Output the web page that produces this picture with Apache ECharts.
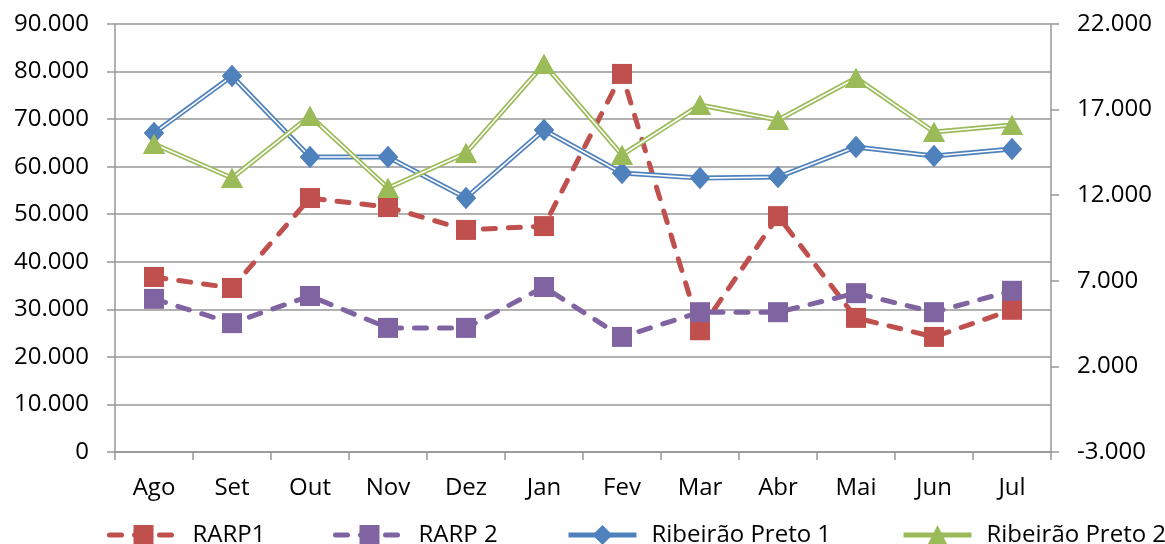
<!DOCTYPE html>
<html>
<head>
<meta charset="utf-8">
<script src="https://cdn.jsdelivr.net/npm/echarts@6/dist/echarts.min.js"></script>
<style>
  html, body { margin: 0; padding: 0; background: #fff; }
  #chart { width: 1165px; height: 544px; }
</style>
</head>
<body>
<div id="chart"></div>
<script>
const months = ['Ago', 'Set', 'Out', 'Nov', 'Dez', 'Jan', 'Fev', 'Mar', 'Abr', 'Mai', 'Jun', 'Jul'];

// eixo da esquerda
const rarp1 = [36800, 34500, 53400, 51500, 46700, 47500, 79500, 25600, 49600, 28200, 24200, 29900];
const rarp2 = [32200, 27100, 32800, 26100, 26100, 34700, 24200, 29400, 29400, 33400, 29400, 33900];
// eixo da direita
const ribeirao1 = [15630, 18960, 14230, 14230, 11840, 15810, 13300, 13000, 13060, 14820, 14290, 14700];
const ribeirao2 = [14990, 13000, 16630, 12420, 14470, 19660, 14350, 17270, 16390, 18850, 15690, 16100];

const names = ['RARP1', 'RARP 2', 'Ribeirão Preto 1', 'Ribeirão Preto 2'];

const FONT = 'Open Sans';
const GRID_GRAY = '#979797';

// 90000 -> "90.000"
function fmt(v) {
  const s = Math.abs(Math.round(v)).toString().replace(/\B(?=(\d{3})+(?!\d))/g, '.');
  return (v < 0 ? '-' : '') + s;
}

const chart = echarts.init(document.getElementById('chart'), null, { renderer: 'canvas' });

function legendAt(name, left) {
  return {
    data: [name],
    left: left,
    top: 523,
    padding: 0,
    itemWidth: 68,
    itemHeight: 25,
    lineStyle: { width: 5 },
    textStyle: { fontFamily: FONT, fontSize: 24, color: '#000', padding: [0, 0, 0, 10] }
  };
}

function dashed(name, data, color, z) {
  return {
    name: name,
    type: 'line',
    yAxisIndex: 0,
    data: data,
    z: z,
    symbol: 'rect',
    symbolSize: 20,
    itemStyle: { color: color },
    lineStyle: { color: color, width: 5, type: [12, 13], cap: 'round' }
  };
}

// linha dupla (estilo excel): linha grossa colorida + linha branca fina + marcadores por cima
function doubleLine(name, data, color, symbol, size, z) {
  return [
    {
      name: name,
      type: 'line',
      yAxisIndex: 1,
      data: data,
      z: z,
      symbol: symbol,
      symbolSize: size,
      itemStyle: { color: color },
      lineStyle: { color: color, width: 5 }
    },
    {
      name: name + '_inner',
      type: 'line',
      yAxisIndex: 1,
      data: data,
      z: z + 1,
      symbol: 'none',
      silent: true,
      lineStyle: { color: '#fff', width: 1.6 }
    },
    {
      name: name + '_marks',
      type: 'line',
      yAxisIndex: 1,
      data: data,
      z: z + 2,
      symbol: symbol,
      symbolSize: size,
      silent: true,
      itemStyle: { color: color },
      lineStyle: { opacity: 0, width: 0 }
    }
  ];
}

let option = {
  animation: false,
  backgroundColor: '#fff',
  textStyle: { fontFamily: FONT },
  grid: {
    left: 115,
    right: 114,
    top: 24,
    bottom: 92,
    containLabel: false
  },
  legend: [
    legendAt(names[0], 107),
    legendAt(names[1], 333),
    legendAt(names[2], 566),
    legendAt(names[3], 901)
  ],
  xAxis: {
    type: 'category',
    data: months,
    boundaryGap: true,
    axisLine: { lineStyle: { color: GRID_GRAY, width: 1.5 } },
    axisTick: { show: true, length: 8, interval: 0, lineStyle: { color: GRID_GRAY, width: 1.5 } },
    axisLabel: { fontFamily: FONT, fontSize: 24, color: '#000', margin: 24, interval: 0 },
    splitLine: { show: false }
  },
  yAxis: [
    {
      type: 'value',
      position: 'left',
      min: 0,
      max: 90000,
      interval: 10000,
      axisLine: { show: true, lineStyle: { color: GRID_GRAY, width: 1.5 } },
      axisTick: { show: true, length: 8, lineStyle: { color: GRID_GRAY, width: 1.5 } },
      axisLabel: { fontFamily: FONT, fontSize: 24, color: '#000', margin: 26, formatter: fmt },
      splitLine: { show: true, lineStyle: { color: GRID_GRAY, width: 1.5 } }
    },
    {
      type: 'value',
      position: 'right',
      min: -3000,
      max: 22000,
      interval: 5000,
      axisLine: { show: true, lineStyle: { color: GRID_GRAY, width: 1.5 } },
      axisTick: { show: true, length: 8, lineStyle: { color: GRID_GRAY, width: 1.5 } },
      axisLabel: { fontFamily: FONT, fontSize: 24, color: '#000', margin: 26, formatter: fmt },
      splitLine: { show: false }
    }
  ],
  series: [
    dashed(names[0], rarp1, '#C0504D', 2),
    dashed(names[1], rarp2, '#8064A2', 3)
  ]
    .concat(doubleLine(names[2], ribeirao1, '#4F81BD', 'diamond', [20, 22], 4))
    .concat(doubleLine(names[3], ribeirao2, '#9BBB59', 'triangle', [22, 20], 7))
};

chart.setOption(option);
</script>
</body>
</html>
